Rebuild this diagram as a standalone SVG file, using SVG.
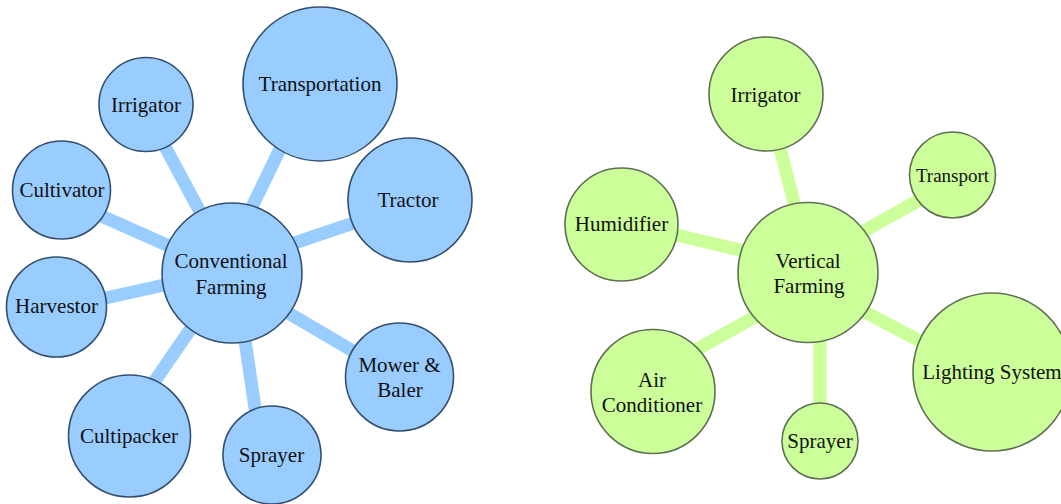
<svg xmlns="http://www.w3.org/2000/svg" width="1061" height="504" viewBox="0 0 1061 504">
<style>
.cb{stroke:#99ccff;stroke-width:13;fill:none}
.cg{stroke:#ccff99;stroke-width:13;fill:none}
.nb{fill:#99ccff;stroke:#34506c;stroke-width:1.6}
.ng{fill:#ccff99;stroke:#5e6f52;stroke-width:1.6}
.t{font-family:'Liberation Serif','Times New Roman',Times,serif;font-size:21px;fill:#111;text-anchor:middle}
</style>
<rect width="1061" height="504" fill="#fff"/>
<g id="connectors">
<line class="cb" x1="142" y1="104" x2="233" y2="273"/>
<line class="cb" x1="312" y1="83" x2="220" y2="273"/>
<line class="cb" x1="61" y1="198" x2="232" y2="274"/>
<line class="cb" x1="56" y1="309" x2="232" y2="270"/>
<line class="cb" x1="229" y1="273" x2="117" y2="436"/>
<line class="cb" x1="235" y1="273" x2="262" y2="455"/>
<line class="cb" x1="232" y1="264" x2="410" y2="204"/>
<line class="cb" x1="232" y1="280" x2="399" y2="378"/>
<line class="cg" x1="766" y1="94" x2="812" y2="272"/>
<line class="cg" x1="621" y1="222" x2="808" y2="266"/>
<line class="cg" x1="808" y1="262" x2="952" y2="182"/>
<line class="cg" x1="653" y1="374" x2="808" y2="287"/>
<line class="cg" x1="820" y1="272" x2="820" y2="441"/>
<line class="cg" x1="808" y1="282" x2="992" y2="379"/>
</g>
<g font-family="Liberation Serif, serif" font-size="21" text-anchor="middle" fill="#111">
<g id="conventional"><circle class="nb" cx="232" cy="273" r="70"/><text class="t" x="231" y="268">Conventional</text><text class="t" x="231" y="294">Farming</text></g>
<g id="transportation"><circle class="nb" cx="320" cy="84" r="77"/><text class="t" x="320" y="91">Transportation</text></g>
<g id="irrigator-l"><circle class="nb" cx="146" cy="104.5" r="47"/><text class="t" x="146" y="112">Irrigator</text></g>
<g id="cultivator"><circle class="nb" cx="61.5" cy="190" r="49"/><text class="t" x="62" y="197">Cultivator</text></g>
<g id="tractor"><circle class="nb" cx="410" cy="200" r="62"/><text class="t" x="408" y="207">Tractor</text></g>
<g id="harvestor"><circle class="nb" cx="56.5" cy="307" r="50"/><text class="t" x="56.5" y="313">Harvestor</text></g>
<g id="mower"><circle class="nb" cx="399.5" cy="377" r="54"/><text class="t" x="399.5" y="372">Mower &amp;</text><text class="t" x="400" y="397">Baler</text></g>
<g id="cultipacker"><circle class="nb" cx="129.5" cy="436" r="61"/><text class="t" x="129" y="443">Cultipacker</text></g>
<g id="sprayer-l"><circle class="nb" cx="272" cy="455" r="49"/><text class="t" x="271.5" y="462">Sprayer</text></g>
<g id="vertical"><circle class="ng" cx="808" cy="272.5" r="70"/><text class="t" x="808" y="268">Vertical</text><text class="t" x="809" y="293">Farming</text></g>
<g id="irrigator-r"><circle class="ng" cx="766" cy="94" r="57"/><text class="t" x="765.5" y="102">Irrigator</text></g>
<g id="transport"><circle class="ng" cx="952.5" cy="175" r="43"/><text class="t" x="952.5" y="182" style="font-size:19px">Transport</text></g>
<g id="humidifier"><circle class="ng" cx="621.5" cy="224.5" r="56.5"/><text class="t" x="621.5" y="231">Humidifier</text></g>
<g id="airconditioner"><circle class="ng" cx="653" cy="391.5" r="62"/><text class="t" x="652" y="387">Air</text><text class="t" x="652" y="412">Conditioner</text></g>
<g id="sprayer-r"><circle class="ng" cx="820" cy="441" r="38"/><text class="t" x="820" y="448">Sprayer</text></g>
<g id="lighting"><circle class="ng" cx="992" cy="372" r="79"/><text class="t" x="992" y="379">Lighting System</text></g>
</g>
</svg>
